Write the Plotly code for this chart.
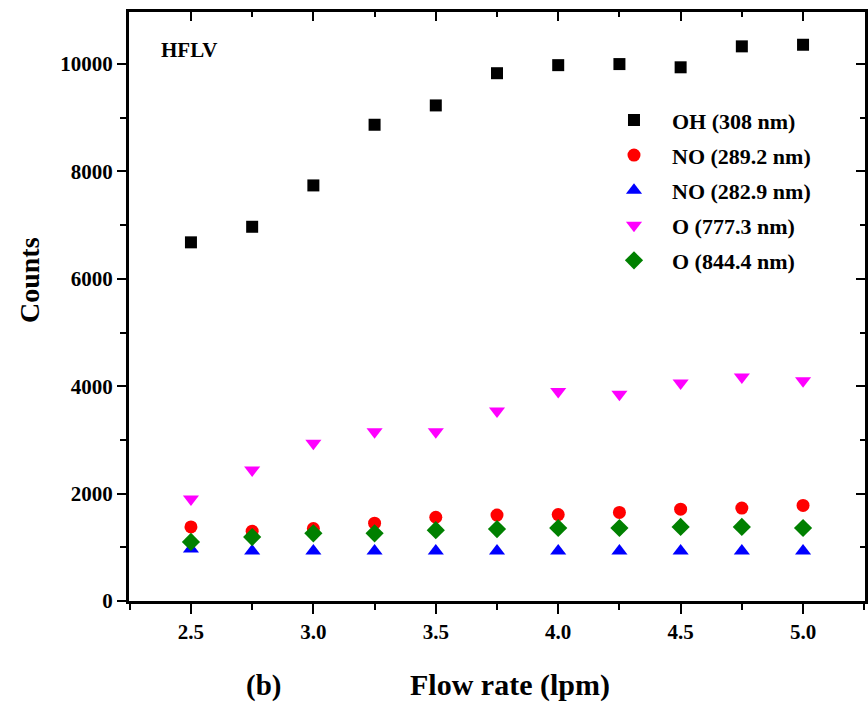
import plotly.graph_objects as go

flow = [2.5, 2.75, 3.0, 3.25, 3.5, 3.75, 4.0, 4.25, 4.5, 4.75, 5.0]
oh_308 = [6680, 6970, 7740, 8870, 9230, 9830, 9980, 10000, 9940, 10330, 10360]
no_289 = [1380, 1300, 1350, 1450, 1560, 1600, 1610, 1650, 1710, 1730, 1780]
no_282 = [970, 930, 930, 930, 930, 930, 930, 930, 930, 930, 930]
o_777 = [1900, 2440, 2940, 3150, 3150, 3540, 3900, 3850, 4060, 4170, 4100]
o_844 = [1100, 1190, 1260, 1260, 1320, 1340, 1360, 1360, 1380, 1380, 1360]

series = [
    ("OH (308 nm)", oh_308, "square", "#000000", 12),
    ("NO (289.2 nm)", no_289, "circle", "#ff0000", 13),
    ("NO (282.9 nm)", no_282, "triangle-up", "#0000ff", 14),
    ("O (777.3 nm)", o_777, "triangle-down", "#ff00ff", 14),
    ("O (844.4 nm)", o_844, "diamond", "#008000", 14),
]

FONT = "Liberation Serif"
xr = [2.247, 5.253]
yr = [0, 10970]

fig = go.Figure()
for i, (name, vals, sym, col, sz) in enumerate(series):
    fig.add_trace(go.Scatter(
        x=flow, y=vals, mode="markers", name=f"<b>{name}</b>", legendgroup=f"g{i}",
        marker=dict(symbol=sym, color=col, size=sz, line=dict(width=0)),
    ))
# invisible trace to anchor the mirrored (inside-tick) axes
fig.add_trace(go.Scatter(x=flow, y=oh_308, xaxis="x2", yaxis="y2", mode="markers",
                         marker=dict(opacity=0), showlegend=False, hoverinfo="skip"))

axis_common = dict(showgrid=False, zeroline=False, linecolor="black", linewidth=3,
                   tickcolor="black", tickwidth=2,
                   tickfont=dict(family=FONT, size=21, color="black"))

fig.update_layout(
    width=868, height=704,
    margin=dict(l=129, r=3, t=12, b=103),
    paper_bgcolor="white", plot_bgcolor="white",
    font=dict(family=FONT, color="black"),
    showlegend=True,
    legend=dict(x=0.6345, y=0.852, xanchor="left", yanchor="top",
                font=dict(family=FONT, size=22, color="black"),
                itemwidth=66, tracegroupgap=3.5, bgcolor="rgba(0,0,0,0)"),
    xaxis=dict(range=xr, tickmode="linear", tick0=2.5, dtick=0.5, ticks="outside",
               ticklen=10, tickformat=".1f", tickprefix="<b>", ticksuffix="</b>",
               minor=dict(dtick=0.25, tick0=2.5, ticks="outside", ticklen=6,
                          tickwidth=2, tickcolor="black"),
               **axis_common),
    yaxis=dict(range=yr, tickmode="linear", tick0=0, dtick=2000, ticks="outside",
               ticklen=9, tickformat="d", tickprefix="<b>", ticksuffix="</b>",
               minor=dict(dtick=1000, tick0=0, ticks="outside", ticklen=6,
                          tickwidth=2, tickcolor="black"),
               **axis_common),
    xaxis2=dict(range=xr, overlaying="x", side="top", anchor="y", tickmode="linear",
                tick0=2.5, dtick=0.5, ticks="inside", ticklen=9, showticklabels=False,
                minor=dict(dtick=0.25, tick0=2.5, ticks="inside", ticklen=5,
                           tickwidth=2, tickcolor="black"),
                **axis_common),
    yaxis2=dict(range=yr, overlaying="y", side="right", anchor="x", tickmode="linear",
                tick0=0, dtick=2000, ticks="inside", ticklen=9, showticklabels=False,
                minor=dict(dtick=1000, tick0=0, ticks="inside", ticklen=5,
                           tickwidth=2, tickcolor="black"),
                **axis_common),
)

fig.add_annotation(text="<b>Counts</b>", xref="paper", yref="paper", x=-0.1345, y=0.545,
                   textangle=-90, xanchor="center", yanchor="middle", showarrow=False,
                   font=dict(family=FONT, size=28, color="black"))
fig.add_annotation(text="<b>Flow rate (lpm)</b>", xref="paper", yref="paper",
                   x=0.5177, y=-0.143, xanchor="center", yanchor="middle", showarrow=False,
                   font=dict(family=FONT, size=30, color="black"))
fig.add_annotation(text="<b>HFLV</b>", xref="paper", yref="paper", x=0.041, y=0.9355,
                   xanchor="left", yanchor="middle", showarrow=False,
                   font=dict(family=FONT, size=21, color="black"))
fig.add_annotation(text="<b>(b)</b>", xref="paper", yref="paper", x=0.183, y=-0.143,
                   xanchor="center", yanchor="middle", showarrow=False,
                   font=dict(family=FONT, size=29, color="black"))

fig.write_html("out.html")
